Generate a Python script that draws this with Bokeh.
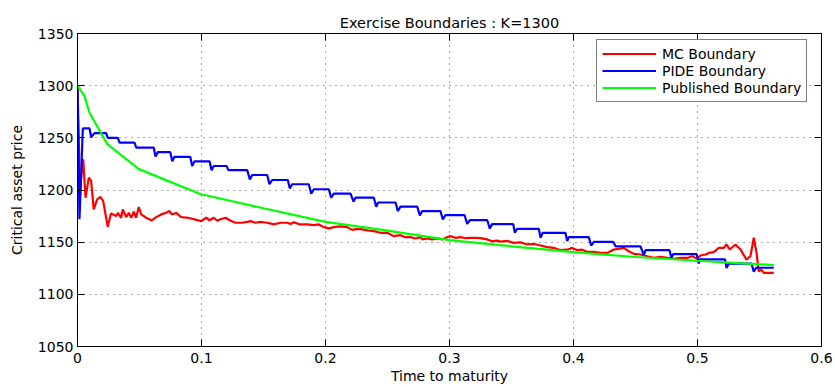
from bokeh.plotting import figure
from bokeh.models import FixedTicker, LinearAxis, CustomJSTickFormatter, Legend, LegendItem, Range1d
from bokeh.embed import file_html
from bokeh.resources import INLINE

# ---------------- data ----------------
mc_t = [0, 0.0012, 0.0020, 0.0032, 0.0046, 0.0065, 0.0091, 0.0110, 0.0131, 0.0159,
        0.0185, 0.0207, 0.0244, 0.0270, 0.0312, 0.0325, 0.0352, 0.0365, 0.0393, 0.0414,
        0.0433, 0.0454, 0.0473, 0.0494, 0.0514, 0.0554, 0.0599, 0.0635, 0.0675, 0.0715,
        0.0742, 0.0760, 0.0796, 0.0836, 0.0890, 0.0944, 0.0998, 0.1038, 0.1065, 0.1099,
        0.1127, 0.1153, 0.1194, 0.1234, 0.1274, 0.1328, 0.1369, 0.1395, 0.1435, 0.1476,
        0.1530, 0.1583, 0.1637, 0.1691, 0.1718, 0.1744, 0.1798, 0.1852, 0.1906, 0.1946,
        0.1986, 0.2027, 0.2067, 0.2121, 0.2175, 0.2215, 0.2256, 0.2296, 0.2336, 0.2390,
        0.2444, 0.2498, 0.2551, 0.2605, 0.2645, 0.2685, 0.2726, 0.2766, 0.2780, 0.2820,
        0.2860, 0.2901, 0.2941, 0.2981, 0.3008, 0.3048, 0.3089, 0.3129, 0.3169, 0.3210,
        0.3250, 0.3304, 0.3344, 0.3385, 0.3411, 0.3465, 0.3519, 0.3573, 0.3627, 0.3680,
        0.3734, 0.3788, 0.3841, 0.3895, 0.3949, 0.3990, 0.4030, 0.4070, 0.4110, 0.4164,
        0.4218, 0.4272, 0.4298, 0.4325, 0.4365, 0.4406, 0.4446, 0.4486, 0.4540, 0.4594,
        0.4648, 0.4702, 0.4756, 0.4809, 0.4863, 0.4917, 0.4957, 0.4998, 0.5024, 0.5065,
        0.5091, 0.5131, 0.5172, 0.5212, 0.5234, 0.5260, 0.5306, 0.5347, 0.5395, 0.5427,
        0.5454, 0.5476, 0.5494, 0.5514, 0.5535, 0.5615]
mc_price = [1300, 1240, 1195, 1215, 1229.5, 1192.6, 1211.8, 1208.7, 1181.4, 1191,
            1193.3, 1189.4, 1164.8, 1177.5, 1175, 1178, 1173.4, 1181.4, 1174, 1178.2,
            1173.4, 1179.2, 1173.4, 1183.7, 1176.6, 1173.4, 1170.8, 1174, 1176.6, 1178.2,
            1179.8, 1176.6, 1178, 1174, 1173.4, 1171.8, 1170.2, 1173.4, 1171, 1173.4,
            1170.5, 1172, 1173.4, 1170.5, 1168.6, 1168.6, 1169.5, 1170.2, 1168.6, 1169.5,
            1168.6, 1167, 1168.6, 1168.6, 1167.5, 1169, 1167, 1167, 1166.3, 1167,
            1164.4, 1163.2, 1164.4, 1165.2, 1164.4, 1161.8, 1162.8, 1162.2, 1161.3, 1160.6,
            1159, 1159, 1155.8, 1156.7, 1154.8, 1154.8, 1153.5, 1154.8, 1152.6, 1153.5,
            1152.6, 1153.5, 1152.6, 1154.8, 1155.8, 1154.2, 1154.8, 1153.8, 1154.2, 1154.2,
            1153.8, 1152.6, 1150.8, 1151.5, 1150.5, 1151.2, 1149.3, 1149.8, 1147.8, 1148.2,
            1146.8, 1145.2, 1144.5, 1142.3, 1142.8, 1144.5, 1142.3, 1142.8, 1140.7, 1140.7,
            1139.7, 1139.7, 1141.3, 1143, 1143.6, 1144.5, 1141.3, 1138.8, 1138.2, 1136.5,
            1134.9, 1135.9, 1135, 1134, 1135, 1134.9, 1136.5, 1134, 1137.2, 1138.2,
            1139.7, 1140.4, 1144.5, 1144.5, 1147.8, 1143, 1147.8, 1143, 1133.3, 1136.5,
            1154.2, 1139.7, 1122, 1123.7, 1120.5, 1120.5]

pide_t = [0, 0.0016, 0.0043, 0.0097, 0.0110, 0.0137, 0.0231, 0.0244, 0.0325, 0.0339,
          0.0460, 0.0473, 0.0615, 0.0629, 0.0648, 0.0748, 0.0764, 0.0782, 0.0909, 0.0925,
          0.0944, 0.1065, 0.1081, 0.1099, 0.1202, 0.1218, 0.1369, 0.1390, 0.1409, 0.1530,
          0.1548, 0.1570, 0.1696, 0.1712, 0.1731, 0.1865, 0.1885, 0.1906, 0.2027, 0.2046,
          0.2067, 0.2202, 0.2226, 0.2242, 0.2390, 0.2409, 0.2425, 0.2565, 0.2583, 0.2605,
          0.2740, 0.2761, 0.2780, 0.2927, 0.2946, 0.2968, 0.3121, 0.3143, 0.3164, 0.3304,
          0.3325, 0.3344, 0.3514, 0.3527, 0.3546, 0.3720, 0.3734, 0.3752, 0.3935, 0.3949,
          0.3962, 0.4123, 0.4143, 0.4164, 0.4320, 0.4339, 0.4540, 0.4567, 0.4581, 0.4774,
          0.4790, 0.4804, 0.4994, 0.5010, 0.5019, 0.5222, 0.5234, 0.5252, 0.5435, 0.5454,
          0.5473, 0.5615]
pide_price = [1300, 1172, 1259, 1259, 1250.5, 1254.5, 1254.5, 1250, 1250, 1245.5,
              1245.5, 1240.7, 1240.7, 1232, 1236.3, 1236.3, 1227.5, 1231.8, 1231.8, 1223,
              1227.5, 1227.5, 1219, 1223, 1223, 1219, 1219, 1210, 1214.4, 1214.4,
              1205.5, 1209.6, 1209.6, 1201.6, 1205.5, 1205.5, 1196.5, 1200.7, 1200.7, 1192.6,
              1196.6, 1196.6, 1188.8, 1192.6, 1192.6, 1184, 1188, 1188, 1179.8, 1184,
              1184, 1175.7, 1179.8, 1179.8, 1171.8, 1176, 1176, 1167.6, 1171.2, 1171.2,
              1163, 1167.3, 1167.3, 1159, 1162.8, 1162.8, 1154.2, 1159, 1159, 1151,
              1154.8, 1154.8, 1146.8, 1150.3, 1150.3, 1146, 1146, 1137.8, 1142.3, 1142.3,
              1135, 1138.5, 1138.5, 1129.5, 1133.5, 1133.5, 1125.3, 1129.5, 1129.5, 1121.8,
              1125.5, 1125.5]

pub_t = [0, 0.0056, 0.0097, 0.024, 0.0495, 0.099, 0.15, 0.2, 0.25, 0.3,
         0.35, 0.4, 0.45, 0.5, 0.5615]
pub_price = [1300, 1290, 1274, 1244, 1220, 1196.2, 1182.5, 1169.5, 1161, 1152,
             1146, 1140.4, 1135.8, 1132.2, 1128]

x_ticks = [0, 0.1, 0.2, 0.3, 0.4, 0.5, 0.6]
y_ticks = [1050, 1100, 1150, 1200, 1250, 1300, 1350]
x_tick_labels = {0: "0", 0.1: "0.1", 0.2: "0.2", 0.3: "0.3", 0.4: "0.4", 0.5: "0.5", 0.6: "0.6"}

title_text = "Exercise Boundaries : K=1300"
x_label = "Time to maturity"
y_label = "Critical asset price"
series_names = ["MC Boundary", "PIDE Boundary", "Published Boundary"]
series_colors = ["#ff0000", "#0000ff", "#00ff00"]

FONT = "DejaVu Sans"

# ---------------- figure ----------------
p = figure(width=835, height=387, output_backend="svg", toolbar_location=None,
           x_range=Range1d(0, 0.6), y_range=Range1d(1050, 1350),
           min_border_left=77, min_border_right=14, min_border_top=33, min_border_bottom=41,
           title=title_text)
p.background_fill_color = "white"
p.border_fill_color = "white"
p.outline_line_color = "black"
p.outline_line_width = 1

p.title.align = "center"
p.title.text_font = FONT
p.title.text_font_size = "14.5px"
p.title.text_font_style = "normal"
p.title.text_color = "black"
p.title.standoff = 6

for ax in [p.xaxis[0], p.yaxis[0]]:
    ax.axis_line_color = "black"
    ax.major_tick_in = 7
    ax.major_tick_out = 0
    ax.minor_tick_line_color = None
    ax.major_tick_line_color = "black"
    ax.major_label_text_font = FONT
    ax.major_label_text_font_size = "14px"
    ax.major_label_text_color = "black"
    ax.axis_label_text_font = FONT
    ax.axis_label_text_font_size = "14px"
    ax.axis_label_text_font_style = "normal"
    ax.axis_label_text_color = "black"

p.xaxis.ticker = FixedTicker(ticks=x_ticks)
p.yaxis.ticker = FixedTicker(ticks=y_ticks)
p.xaxis.major_label_overrides = x_tick_labels
p.xaxis.axis_label = x_label
p.yaxis.axis_label = y_label
p.xaxis.major_label_standoff = 6
p.xaxis.axis_label_standoff = 2
p.yaxis.major_label_standoff = 4
p.yaxis.axis_label_standoff = 10

blank = CustomJSTickFormatter(code="return ''")
top = LinearAxis(ticker=FixedTicker(ticks=x_ticks), formatter=blank,
                 major_tick_in=7, major_tick_out=0, minor_tick_line_color=None,
                 major_label_text_font_size="0px", major_label_standoff=0,
                 axis_line_color="black")
right = LinearAxis(ticker=FixedTicker(ticks=y_ticks), formatter=blank,
                   major_tick_in=7, major_tick_out=0, minor_tick_line_color=None,
                   major_label_text_font_size="0px", major_label_standoff=0,
                   axis_line_color="black")
p.add_layout(top, "above")
p.add_layout(right, "right")

p.xgrid.ticker = FixedTicker(ticks=x_ticks)
p.ygrid.ticker = FixedTicker(ticks=y_ticks)
for g in [p.xgrid[0], p.ygrid[0]]:
    g.grid_line_color = "#555555"
    g.grid_line_dash = "1 5"
    g.grid_line_width = 1

r_mc = p.line(mc_t, mc_price, line_color=series_colors[0], line_width=2.2)
r_pide = p.line(pide_t, pide_price, line_color=series_colors[1], line_width=2.2)
r_pub = p.line(pub_t, pub_price, line_color=series_colors[2], line_width=2.2)

legend = Legend(items=[LegendItem(label=series_names[0], renderers=[r_mc]),
                       LegendItem(label=series_names[1], renderers=[r_pide]),
                       LegendItem(label=series_names[2], renderers=[r_pub])],
                location=(519, 244))
legend.label_text_font = FONT
legend.label_text_font_size = "14px"
legend.label_text_color = "black"
legend.border_line_color = "black"
legend.border_line_width = 1
legend.background_fill_color = "white"
legend.background_fill_alpha = 1
legend.padding = 5
legend.spacing = 0
legend.margin = 0
legend.glyph_height = 17
legend.label_height = 17
legend.glyph_width = 54
legend.label_standoff = 6
p.add_layout(legend, "center")

open("out.html", "w").write(file_html(p, INLINE))
